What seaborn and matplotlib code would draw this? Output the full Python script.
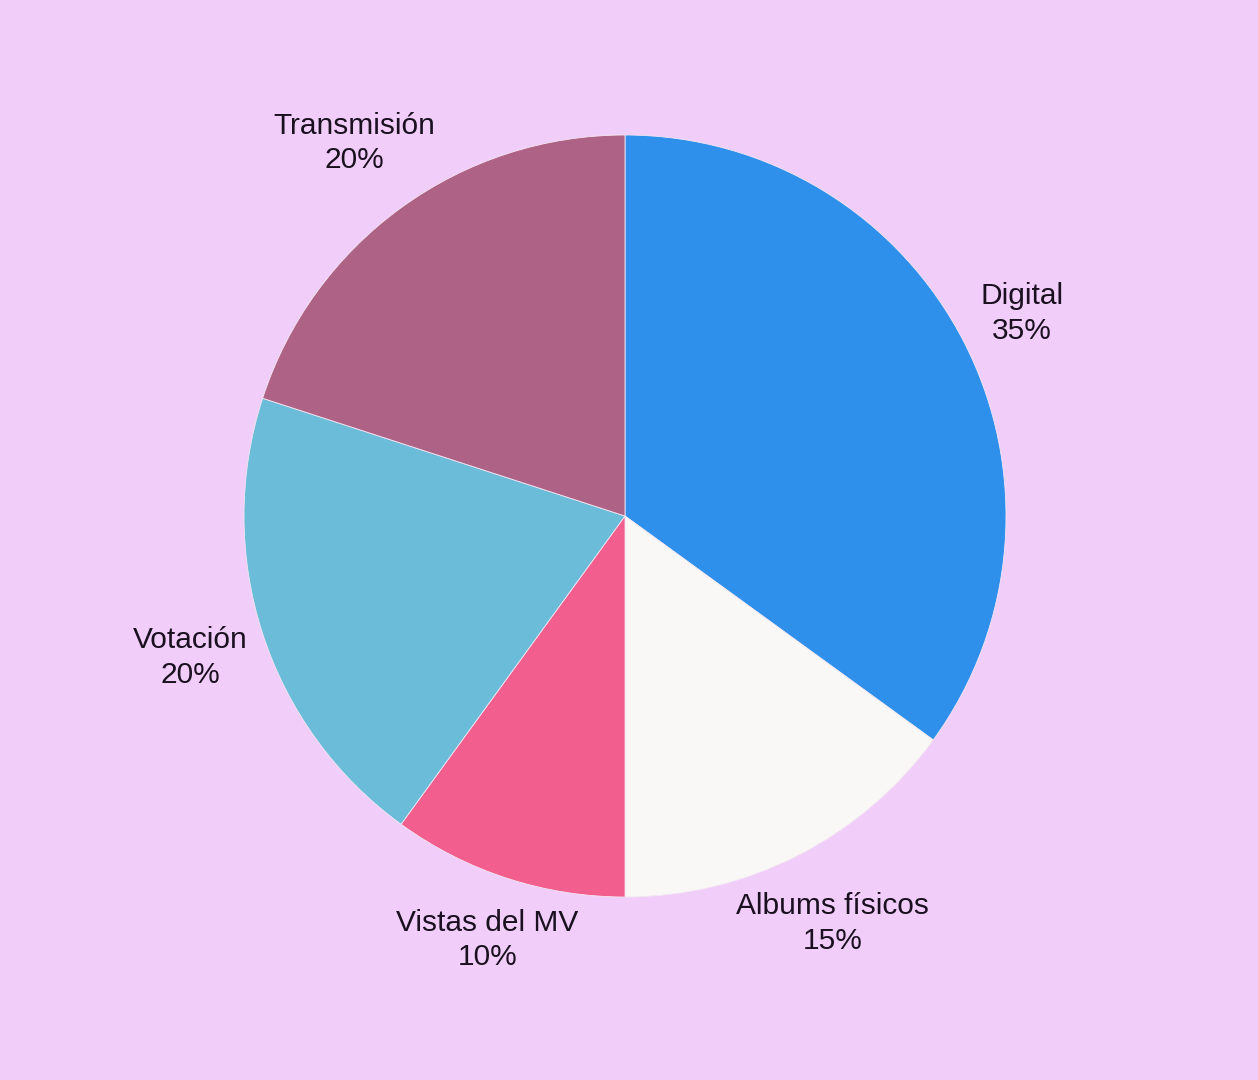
import numpy as np
import matplotlib
matplotlib.use("Agg")
import matplotlib.pyplot as plt
import seaborn as sns

categories = ["Digital", "Albums físicos", "Vistas del MV", "Votación", "Transmisión"]
values = [35, 15, 10, 20, 20]
colors = ["#2E90EA", "#FAF8F6", "#F25E8E", "#6ABCD8", "#AE6386"]
label_dist = [1.17, 1.20, 1.17, 1.20, 1.21]

sns.set_theme(style="white")
plt.rcParams['font.family'] = ['Liberation Sans', 'DejaVu Sans']

bg = "#F1CEF9"
fig = plt.figure(figsize=(12.58, 10.8), dpi=100)
fig.patch.set_facecolor(bg)

cx, cy, r = 625, 516, 381
W, H = 1258, 1080
ax = fig.add_axes([(cx - r) / W, (H - cy - r) / H, 2 * r / W, 2 * r / H])
ax.set_facecolor(bg)

wedges, _ = ax.pie(values, colors=colors, startangle=90, counterclock=False,
                   wedgeprops=dict(edgecolor="#F3E6F3", linewidth=0.6))
ax.set_xlim(-1, 1)
ax.set_ylim(-1, 1)
ax.set_aspect('auto')
ax.axis('off')

for w, cat, v, d in zip(wedges, categories, values, label_dist):
    ang = np.deg2rad((w.theta1 + w.theta2) / 2)
    ax.text(d * np.cos(ang), d * np.sin(ang), f"{cat}\n{v}%",
            ha="center", va="center", fontsize=21.5, color="#1A1020",
            linespacing=1.3, clip_on=False)

fig.savefig("out.png", dpi=100, facecolor=bg)
